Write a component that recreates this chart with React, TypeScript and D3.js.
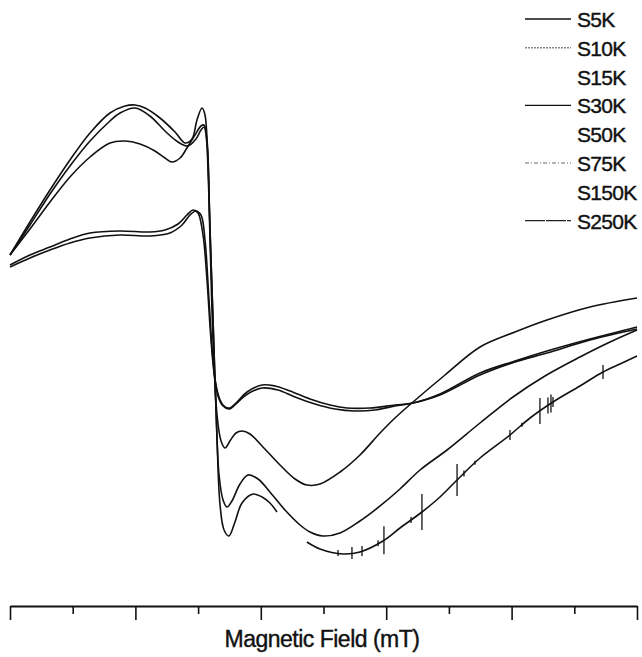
import React, { useEffect, useRef } from 'react';
import * as d3 from 'd3';

const WIDTH = 642;
const HEIGHT = 657;

type Pt = [number, number | null];

// Magnetic field (mT) vs. EPR derivative intensity (arb. units)
const s5K: Pt[] = [
  [0, 95], [15.9, 128], [31.9, 160], [47.8, 190], [63.8, 217], [79.7, 237], [91.7, 244], [99.7, 245],
  [107.7, 242], [119.6, 232], [131.6, 218], [139.6, 207], [145.1, 211], [149.1, 230], [153.1, 242],
  [155.5, 235], [157.9, 180], [160.3, 90], [162.7, 0], [165.1, -90], [167.5, -155], [170.7, -180],
  [174.6, -186], [179.4, -172], [185.0, -153], [193.8, -144], [201.0, -147], [207.3, -153], [212.9, -162],
  [224.0, null],
  [236.8, -192], [247.2, -199], [265.6, -204], [279.1, -202], [297.4, -191], [311.0, -178], [328.5, -162],
  [342.9, -147], [356.5, -130], [374.8, -108], [398.7, -85], [414.7, -68], [433.0, -52], [454.5, -36],
  [472.9, -22], [486.4, -14], [500, -6],
];

const s10K: Pt[] = [
  [0, 95], [15.9, 125], [31.9, 156], [47.8, 184], [63.8, 209], [79.7, 229], [87.7, 237], [99.7, 242],
  [111.6, 234], [123.6, 219], [134.0, 208], [141.9, 204], [148.3, 211], [152.3, 220], [154.7, 223],
  [157.1, 205], [159.5, 120], [161.9, 30], [164.3, -60], [166.7, -125], [169.9, -150], [173.0, -157],
  [177.0, -151], [183.4, -134], [189.8, -125], [197.8, -129], [207.3, -142], [219.3, -160], [231.3, -175],
  [239.2, -182], [249.6, -186], [263.2, -183], [279.1, -171], [295.1, -156], [311.0, -139], [327.0, -120],
  [348.5, -100], [374.8, -73], [401.1, -47], [426.6, -26], [454.5, -7], [478.5, 8], [500, 20],
];

const s30K: Pt[] = [
  [0, 95], [15.9, 121], [31.9, 148], [47.8, 173], [63.8, 193], [79.7, 207], [91.7, 209], [103.7, 206],
  [115.6, 199], [123.6, 192], [129.2, 188], [135.6, 192], [141.1, 202], [147.5, 215], [152.3, 224],
  [154.7, 225], [157.1, 210], [159.5, 110], [161.9, 10], [165.1, -65], [168.3, -91], [171.5, -98],
  [175.4, -91], [180.2, -83], [185.0, -81], [191.4, -84], [201.0, -96], [215.3, -115], [227.3, -129],
  [236.8, -135], [247.2, -134], [263.2, -122], [279.1, -105], [295.1, -83], [307.0, -68], [321.4, -52],
  [346.9, -25], [374.8, 3], [402.7, 18], [428.2, 30], [462.5, 43], [500, 52],
];

const s75K: Pt[] = [
  [0, 85], [15.9, 95], [31.9, 103], [47.8, 111], [63.8, 117], [87.7, 119], [111.6, 118], [123.6, 120],
  [134.0, 126], [141.1, 135], [145.9, 140], [149.9, 137], [153.9, 115], [157.1, 70], [160.3, 10],
  [163.5, -30], [167.5, -50], [171.5, -57], [175.4, -58], [181.0, -52], [189.0, -42], [201.0, -35],
  [211.3, -36], [223.3, -41], [239.2, -49], [255.2, -55], [268.7, -58], [287.1, -58], [307.0, -55],
  [321.4, -53], [342.9, -44], [374.8, -23], [402.7, -11], [428.2, -1], [462.5, 11], [500, 23],
];

const s250K: Pt[] = [
  [0, 83], [15.9, 92], [31.9, 100], [47.8, 107], [63.8, 112], [87.7, 115], [111.6, 114], [127.6, 117],
  [137.2, 125], [143.5, 135], [148.3, 139], [152.3, 135], [155.5, 110], [158.7, 50], [161.9, -10],
  [165.9, -46], [169.9, -56], [174.6, -59], [180.2, -54], [188.2, -45], [201.0, -38], [213.7, -40],
  [227.3, -47], [243.2, -54], [259.2, -59], [275.1, -61], [291.1, -60], [307.0, -56], [321.4, -53],
  [342.9, -45], [374.8, -25], [402.7, -12], [428.2, -3], [462.5, 10], [500, 21],
];

// noise spikes on the S5K trace: [field, half-height]
const s5KSpikes: [number, number][] = [
  [261.6, 3], [272.7, 6], [280.7, 5], [293.5, 3], [298.2, 14], [319.8, 3], [328.5, 18], [356.5, 16],
  [362.0, 3], [370.8, 2], [398.7, 5], [408.3, 2], [422.6, 13], [429.0, 8], [431.4, 9], [433.0, 5],
  [472.9, 7],
];

const legendNames = ['S5K', 'S10K', 'S15K', 'S30K', 'S50K', 'S75K', 'S150K', 'S250K'];
const majorTicks = [0, 100, 200, 300, 400, 500];
const minorTicks = [50, 150, 250, 350, 450];
const xLabel = 'Magnetic Field (mT)';

const legendStyle: Record<string, { stroke: string; dash: string } | null> = {
  S5K: { stroke: '#111', dash: '' },
  S10K: { stroke: '#888', dash: '2,1' },
  S15K: null,
  S30K: { stroke: '#111', dash: '' },
  S50K: null,
  S75K: { stroke: '#999', dash: '4,2,1,2' },
  S150K: null,
  S250K: { stroke: '#222', dash: '20,1' },
};

const curves: { name: string; data: Pt[] }[] = [
  { name: 'S250K', data: s250K },
  { name: 'S75K', data: s75K },
  { name: 'S30K', data: s30K },
  { name: 'S10K', data: s10K },
  { name: 'S5K', data: s5K },
];

const x = d3.scaleLinear().domain([0, 500]).range([10, 637]);
const y = d3.scaleLinear().domain([-250, 250]).range([600, 100]);

function interpY(data: Pt[], f: number): number {
  const pts = data.filter((d) => d[1] !== null) as [number, number][];
  for (let i = 0; i < pts.length - 1; i++) {
    if (f >= pts[i][0] && f <= pts[i + 1][0]) {
      const t = (f - pts[i][0]) / (pts[i + 1][0] - pts[i][0]);
      return pts[i][1] + t * (pts[i + 1][1] - pts[i][1]);
    }
  }
  return pts[pts.length - 1][1];
}

export default function App() {
  const majorRef = useRef<SVGGElement>(null);
  const minorRef = useRef<SVGGElement>(null);

  useEffect(() => {
    if (majorRef.current) {
      const g = d3.select(majorRef.current);
      g.call(d3.axisBottom(x).tickValues(majorTicks).tickSize(14).tickSizeOuter(0).tickFormat(() => ''));
      g.selectAll('path').attr('stroke', '#111').attr('stroke-width', 1.8);
      g.selectAll('line').attr('stroke', '#111').attr('stroke-width', 1.6);
    }
    if (minorRef.current) {
      const g = d3.select(minorRef.current);
      g.call(d3.axisBottom(x).tickValues(minorTicks).tickSize(8).tickSizeOuter(0).tickFormat(() => ''));
      g.select('path').remove();
      g.selectAll('line').attr('stroke', '#111').attr('stroke-width', 1.6);
    }
  }, []);

  const line = d3
    .line<Pt>()
    .defined((d) => d[1] !== null)
    .x((d) => x(d[0]))
    .y((d) => y(d[1] as number))
    .curve(d3.curveCatmullRom.alpha(0.5));

  return (
    <svg
      width={WIDTH}
      height={HEIGHT}
      style={{ position: 'absolute', left: 0, top: 0, background: '#fff' }}
      fontFamily="'Liberation Sans', Arial, sans-serif"
    >
      <rect width={WIDTH} height={HEIGHT} fill="#fff" />
      {curves.map((c) => (
        <path key={c.name} d={line(c.data) || ''} fill="none" stroke="#111" strokeWidth={1.6} />
      ))}
      {s5KSpikes.map(([f, h], i) => {
        const cy = y(interpY(s5K, f));
        return (
          <line key={i} x1={x(f)} x2={x(f)} y1={cy - h} y2={cy + h} stroke="#111" strokeWidth={1.3} />
        );
      })}
      <g ref={majorRef} transform="translate(0,606)" />
      <g ref={minorRef} transform="translate(0,606)" />
      <text x={322} y={647} textAnchor="middle" fontSize={23} letterSpacing={-0.5} fill="#111" stroke="#111" strokeWidth={0.4}>
        {xLabel}
      </text>
      {legendNames.map((n, i) => {
        const base = 27 + i * 28.8;
        const st = legendStyle[n];
        return (
          <g key={n}>
            {st && (
              <line x1={525} x2={571} y1={base - 8} y2={base - 8} stroke={st.stroke} strokeWidth={1.4} strokeDasharray={st.dash} />
            )}
            <text x={577} y={base} fontSize={21} letterSpacing={-0.7} fill="#111" stroke="#111" strokeWidth={0.4}>
              {n}
            </text>
          </g>
        );
      })}
    </svg>
  );
}
